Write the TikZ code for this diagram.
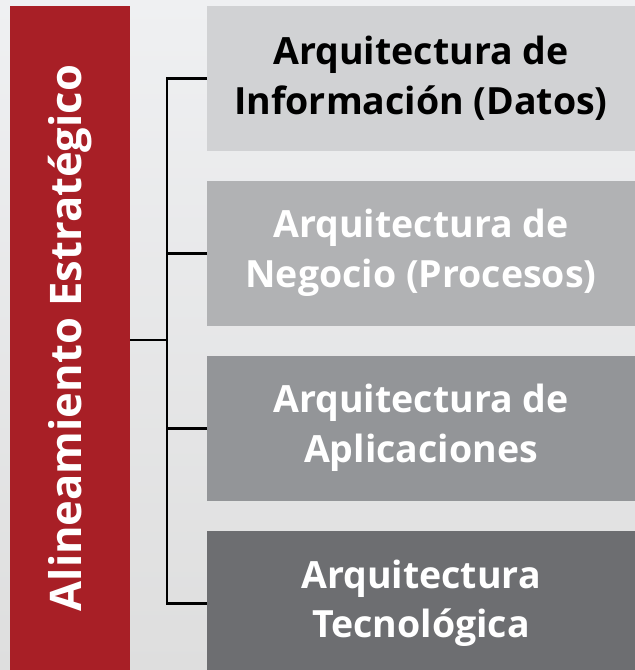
\documentclass[tikz,border=0pt]{standalone}
\usepackage{fontspec}
\setmainfont{Open Sans}
\usetikzlibrary{positioning}

\definecolor{rojo}{HTML}{A81F26}
\definecolor{fondoa}{HTML}{EFF0F2}
\definecolor{fondob}{HTML}{DEDEDE}
\definecolor{grisa}{HTML}{D1D2D4}
\definecolor{grisb}{HTML}{B1B2B4}
\definecolor{grisc}{HTML}{939598}
\definecolor{grisd}{HTML}{6D6E71}

\begin{document}
\begin{tikzpicture}[x=1pt,y=-1pt,node distance=30.5pt,
  line width=2.5pt,
  capa/.style={rectangle,inner sep=0pt,outer sep=0pt,minimum width=428pt,minimum height=144.5pt,
    align=center,text=white,font=\fontsize{37.5}{50}\selectfont\bfseries}]

  \useasboundingbox (0,0) rectangle (635,670);
  \shade[top color=fondoa,bottom color=fondob] (0,0) rectangle (635,670);

  % barra roja
  \node[fill=rojo,inner sep=0pt,outer sep=0pt,minimum width=120pt,minimum height=664pt,anchor=north west] (eje) at (10,6) {};
  \node[rotate=90,text=white,font=\fontsize{43.5}{50}\selectfont\bfseries] (titulo) at (eje.center) {Alineamiento Estratégico};

  % capas
  \node[capa,fill=grisa,text=black,anchor=north west] (1) at (207,6) {Arquitectura de\\Información (Datos)};
  \node[capa,fill=grisb] (2) [below=of 1] {Arquitectura de\\Negocio (Procesos)};
  \node[capa,fill=grisc] (3) [below=of 2] {Arquitectura de\\Aplicaciones};
  \node[capa,fill=grisd] (4) [below=of 3] {Arquitectura\\Tecnológica};

  % llave
  \coordinate (lomo) at (167,340);
  \draw (eje.east |- lomo) -- (lomo);
  \draw (1.west) -- (lomo |- 1.west) -- (lomo |- 4.west) -- (4.west);
  \draw (2.west) -- (lomo |- 2.west);
  \draw (3.west) -- (lomo |- 3.west);
\end{tikzpicture}
\end{document}
